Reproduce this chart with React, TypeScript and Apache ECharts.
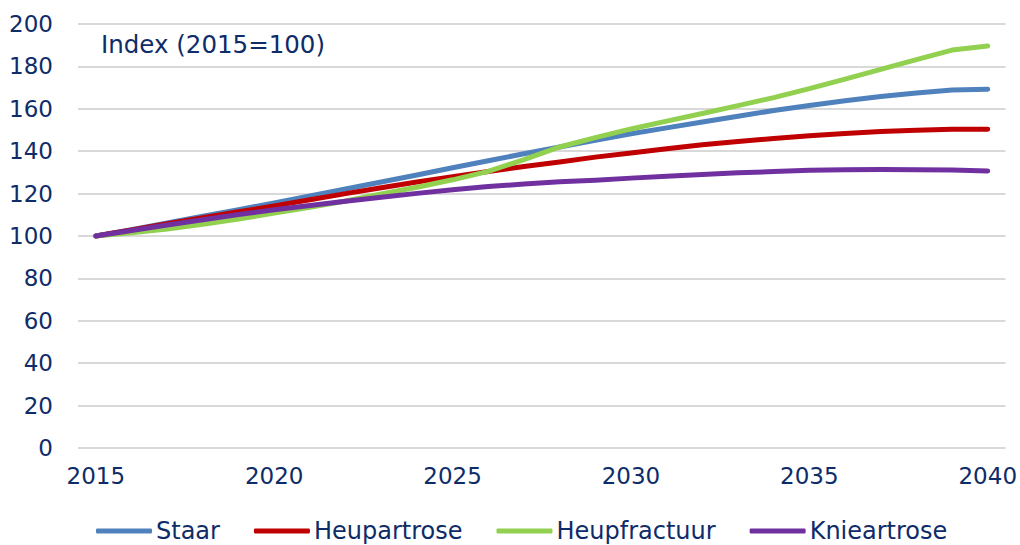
import React, { useEffect, useRef } from "react";
import * as echarts from "echarts";

const years = [
  "2015", "2016", "2017", "2018", "2019", "2020", "2021", "2022", "2023", "2024",
  "2025", "2026", "2027", "2028", "2029", "2030", "2031", "2032", "2033", "2034",
  "2035", "2036", "2037", "2038", "2039", "2040",
];

const staar = [
  100, 103, 106.2, 109.3, 112.4, 115.6, 118.9, 122.2, 125.5, 128.8,
  132.2, 135.5, 138.8, 142.0, 145.2, 148.2, 151.0, 153.8, 156.5, 159.2,
  161.6, 163.8, 165.8, 167.5, 168.9, 169.2,
];

const heupartrose = [
  100, 102.9, 105.8, 108.6, 111.4, 114.2, 117.1, 120.0, 122.8, 125.5,
  128.0, 130.4, 132.8, 134.9, 137.2, 139.2, 141.2, 143.0, 144.6, 146.0,
  147.3, 148.4, 149.3, 149.9, 150.3, 150.4,
];

const heupfractuur = [
  100, 101.5, 103.3, 105.5, 108.0, 110.8, 113.5, 116.5, 119.8, 123.0,
  126.5, 130.5, 136.0, 142.0, 146.4, 150.5, 154.2, 157.8, 161.5, 165.3,
  169.5, 174.0, 178.6, 183.2, 187.7, 189.6,
];

const knieartrose = [
  100, 102.6, 105.2, 107.7, 110.1, 112.4, 114.4, 116.4, 118.3, 120.1,
  121.8, 123.3, 124.5, 125.6, 126.3, 127.3, 128.2, 129.0, 129.8, 130.4,
  131.0, 131.3, 131.4, 131.3, 131.1, 130.7,
];

const seriesNames = ["Staar", "Heupartrose", "Heupfractuur", "Knieartrose"];
const seriesData = [staar, heupartrose, heupfractuur, knieartrose];
const colors = ["#4F81BD", "#C00000", "#92D050", "#7030A0"];

const TEXT = "#0E2C68";
const FONT = "'DejaVu Sans', Verdana, sans-serif";

export default function App() {
  const ref = useRef<HTMLDivElement>(null);

  useEffect(() => {
    if (!ref.current) return;
    const chart = echarts.init(ref.current, undefined, { renderer: "svg" });
    chart.setOption({
      animation: false,
      backgroundColor: "#ffffff",
      textStyle: { fontFamily: FONT, color: TEXT },
      grid: { left: 78, right: 14, top: 24, bottom: 97 },
      xAxis: {
        type: "category",
        data: years,
        boundaryGap: true,
        axisLine: { show: false },
        axisTick: { show: false },
        axisLabel: {
          interval: 4,
          color: TEXT,
          fontSize: 23,
          fontFamily: FONT,
          margin: 16,
        },
      },
      yAxis: {
        type: "value",
        min: 0,
        max: 200,
        interval: 20,
        axisLine: { show: false },
        axisTick: { show: false },
        axisLabel: {
          color: TEXT,
          fontSize: 23,
          fontFamily: FONT,
          margin: 25,
        },
        splitLine: { lineStyle: { color: "#D9D9D9", width: 2 } },
      },
      legend: {
        left: 91,
        top: 514,
        icon: "roundRect",
        itemWidth: 56,
        itemHeight: 5,
        itemGap: 34,
        textStyle: { color: TEXT, fontSize: 24, fontFamily: FONT, padding: [0, 0, 0, -1] },
        data: seriesNames,
      },
      graphic: [
        {
          type: "text",
          left: 101,
          top: 32,
          style: {
            text: "Index (2015=100)",
            fill: TEXT,
            font: `24.5px ${FONT}`,
          },
        },
      ],
      series: seriesNames.map((name, i) => ({
        name,
        type: "line",
        data: seriesData[i],
        showSymbol: false,
        symbol: "none",
        color: colors[i],
        lineStyle: { color: colors[i], width: 5, cap: "round", join: "round" },
      })),
    });
    return () => chart.dispose();
  }, []);

  return <div ref={ref} style={{ width: 1020, height: 545, position: "absolute", left: 0, top: 0 }} />;
}
